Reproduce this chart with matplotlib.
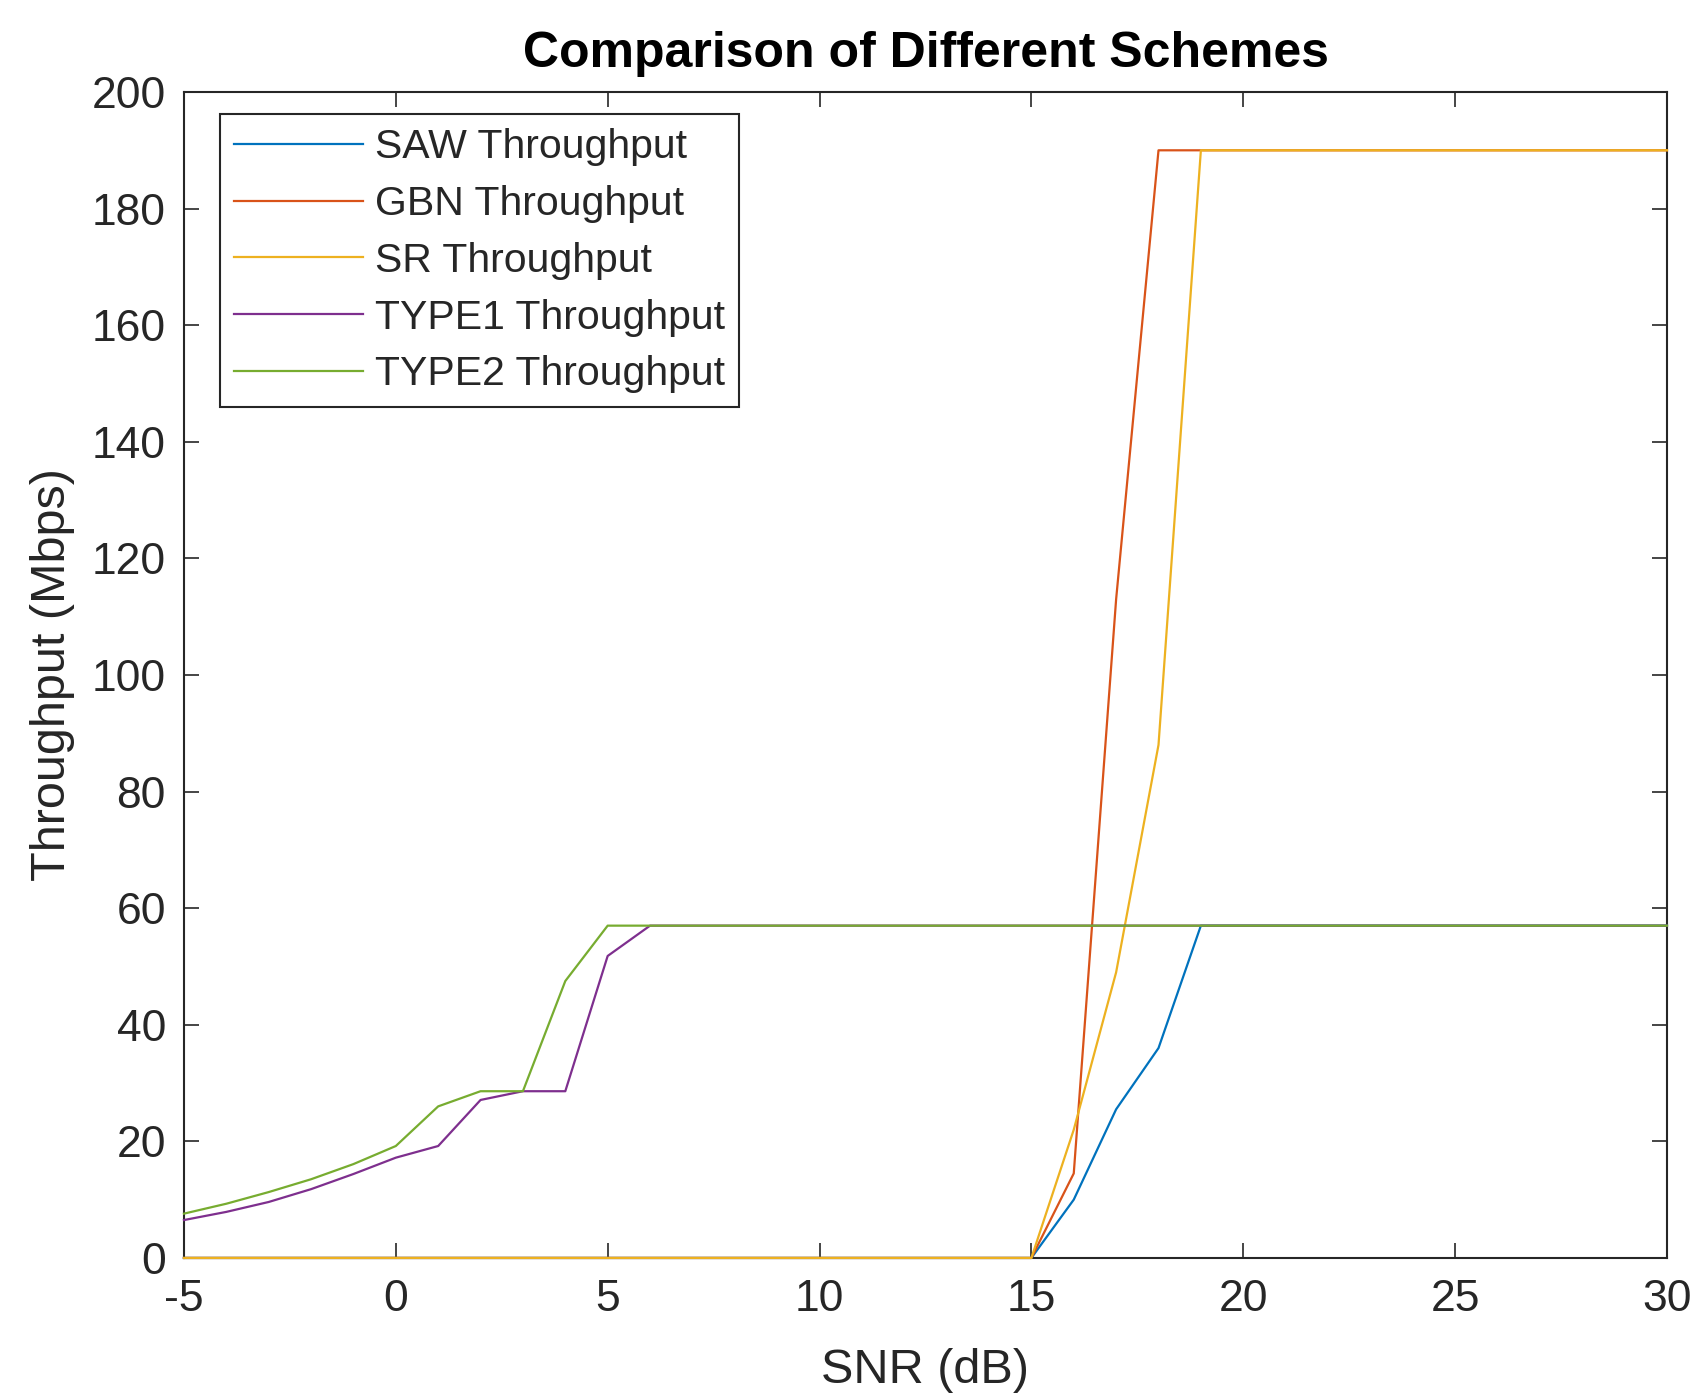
import matplotlib
matplotlib.use('Agg')
import matplotlib.pyplot as plt

# SNR sweep (dB)
snr = [-5, -4, -3, -2, -1, 0, 1, 2, 3, 4, 5, 6, 7, 8, 9, 10, 11, 12,
       13, 14, 15, 16, 17, 18, 19, 20, 21, 22, 23, 24, 25, 26, 27, 28, 29, 30]

# throughput values (Mbps)
saw = [0, 0, 0, 0, 0, 0, 0, 0, 0, 0, 0, 0, 0, 0, 0, 0, 0, 0,
       0, 0, 0, 10, 25.5, 36, 57, 57, 57, 57, 57, 57, 57, 57, 57, 57, 57, 57]
gbn = [0, 0, 0, 0, 0, 0, 0, 0, 0, 0, 0, 0, 0, 0, 0, 0, 0, 0,
       0, 0, 0, 14.5, 113, 190, 190, 190, 190, 190, 190, 190, 190, 190, 190, 190, 190, 190]
sr = [0, 0, 0, 0, 0, 0, 0, 0, 0, 0, 0, 0, 0, 0, 0, 0, 0, 0,
      0, 0, 0, 22, 49, 88, 190, 190, 190, 190, 190, 190, 190, 190, 190, 190, 190, 190]
type1 = [6.5, 7.9, 9.6, 11.8, 14.4, 17.2, 19.2, 27.1, 28.6, 28.6, 51.8, 57, 57, 57, 57, 57, 57, 57,
         57, 57, 57, 57, 57, 57, 57, 57, 57, 57, 57, 57, 57, 57, 57, 57, 57, 57]
type2 = [7.6, 9.3, 11.3, 13.5, 16.1, 19.2, 26, 28.6, 28.6, 47.5, 57, 57, 57, 57, 57, 57, 57, 57,
         57, 57, 57, 57, 57, 57, 57, 57, 57, 57, 57, 57, 57, 57, 57, 57, 57, 57]

labels = ['SAW Throughput', 'GBN Throughput', 'SR Throughput',
          'TYPE1 Throughput', 'TYPE2 Throughput']
colors = ['#0072BD', '#D95319', '#EDB120', '#7E2F8E', '#77AC30']

plt.rcParams['font.family'] = ['Liberation Sans', 'DejaVu Sans']
plt.rcParams['axes.unicode_minus'] = False  # MATLAB style hyphen minus
axis_col = '#262626'

fig = plt.figure(figsize=(16.97, 13.94), dpi=100)
ax = fig.add_axes([0.1084, 0.0976, 0.9823 - 0.1084, 0.934 - 0.0976])

for y, lab, c in zip([saw, gbn, sr, type1, type2], labels, colors):
    ax.plot(snr, y, color=c, lw=1.6, label=lab, zorder=3, clip_on=False)

ax.set_xlim(-5, 30)
ax.set_ylim(0, 200)
ax.set_xticks(range(-5, 31, 5))
ax.set_yticks(range(0, 201, 20))

ax.tick_params(direction='in', length=11, width=1.2, top=True, right=True,
               labelsize=32, colors=axis_col)
ax.tick_params(axis='x', pad=15)
ax.tick_params(axis='y', pad=13)
for sp in ax.spines.values():
    sp.set_color(axis_col)
    sp.set_linewidth(1.5)

ax.set_xlabel('SNR (dB)', fontsize=35, color=axis_col, labelpad=20)
ax.set_ylabel('Throughput (Mbps)', fontsize=35, color=axis_col, labelpad=12)
ax.set_title('Comparison of Different Schemes', fontsize=36, fontweight='bold', pad=18)

leg = ax.legend(loc='upper left', bbox_to_anchor=(0.0243, 0.981), borderaxespad=0,
                fontsize=29.5, handlelength=3.15, handletextpad=0.3, labelspacing=0.46,
                fancybox=False, edgecolor=axis_col, framealpha=1, borderpad=0.34)
leg.get_frame().set_linewidth(1.5)
for t in leg.get_texts():
    t.set_color(axis_col)

fig.savefig('out.png', dpi=100, facecolor='white')
